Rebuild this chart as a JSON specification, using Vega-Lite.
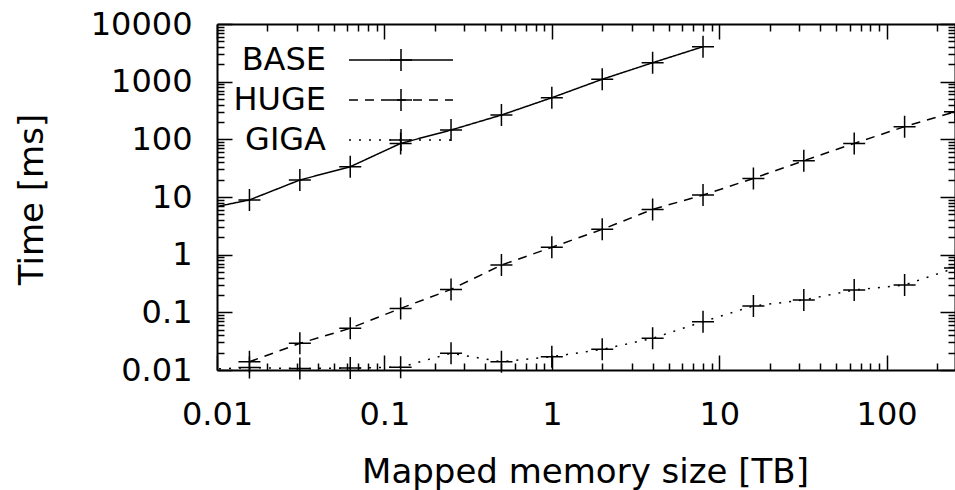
{
  "$schema": "https://vega.github.io/schema/vega-lite/v6.json",
  "width": 738,
  "height": 346,
  "autosize": "none",
  "padding": {"left": 217, "top": 24, "right": 0, "bottom": 120},
  "background": "white",
  "config": {"view": {"stroke": null}, "font": "DejaVu Sans"},
  "data": {"values": [
    {"series": "BASE", "size": 0.0078125, "time": 5.9},
    {"series": "BASE", "size": 0.015625, "time": 8.9},
    {"series": "BASE", "size": 0.03125, "time": 19.7},
    {"series": "BASE", "size": 0.0625, "time": 33.5},
    {"series": "BASE", "size": 0.125, "time": 85},
    {"series": "BASE", "size": 0.25, "time": 145},
    {"series": "BASE", "size": 0.5, "time": 264},
    {"series": "BASE", "size": 1, "time": 527},
    {"series": "BASE", "size": 2, "time": 1100},
    {"series": "BASE", "size": 4, "time": 2130},
    {"series": "BASE", "size": 8, "time": 4040},
    {"series": "HUGE", "size": 0.015625, "time": 0.0139},
    {"series": "HUGE", "size": 0.03125, "time": 0.029},
    {"series": "HUGE", "size": 0.0625, "time": 0.053},
    {"series": "HUGE", "size": 0.125, "time": 0.117},
    {"series": "HUGE", "size": 0.25, "time": 0.25},
    {"series": "HUGE", "size": 0.5, "time": 0.66},
    {"series": "HUGE", "size": 1, "time": 1.34},
    {"series": "HUGE", "size": 2, "time": 2.75},
    {"series": "HUGE", "size": 4, "time": 6.1},
    {"series": "HUGE", "size": 8, "time": 10.8},
    {"series": "HUGE", "size": 16, "time": 21},
    {"series": "HUGE", "size": 32, "time": 42.6},
    {"series": "HUGE", "size": 64, "time": 85},
    {"series": "HUGE", "size": 128, "time": 166},
    {"series": "HUGE", "size": 256, "time": 301},
    {"series": "GIGA", "size": 0.0078125, "time": 0.0102},
    {"series": "GIGA", "size": 0.015625, "time": 0.011},
    {"series": "GIGA", "size": 0.03125, "time": 0.0106},
    {"series": "GIGA", "size": 0.0625, "time": 0.0108},
    {"series": "GIGA", "size": 0.125, "time": 0.0112},
    {"series": "GIGA", "size": 0.25, "time": 0.0195},
    {"series": "GIGA", "size": 0.5, "time": 0.0139},
    {"series": "GIGA", "size": 1, "time": 0.017},
    {"series": "GIGA", "size": 2, "time": 0.0228},
    {"series": "GIGA", "size": 4, "time": 0.0354},
    {"series": "GIGA", "size": 8, "time": 0.069},
    {"series": "GIGA", "size": 16, "time": 0.129},
    {"series": "GIGA", "size": 32, "time": 0.164},
    {"series": "GIGA", "size": 64, "time": 0.244},
    {"series": "GIGA", "size": 128, "time": 0.298},
    {"series": "GIGA", "size": 256, "time": 0.588}
  ]},
  "layer": [
    {
      "mark": {"type": "line", "clip": true, "strokeWidth": 1.5, "color": "black"},
      "encoding": {
        "x": {
          "field": "size", "type": "quantitative",
          "scale": {"type": "log", "domain": [0.01, 256], "nice": false},
          "axis": {
            "orient": "bottom",
            "values": [0.01,0.02,0.03,0.04,0.05,0.06,0.07,0.08,0.09,0.1,0.2,0.3,0.4,0.5,0.6,0.7,0.8,0.9,1,2,3,4,5,6,7,8,9,10,20,30,40,50,60,70,80,90,100,200],
            "labelExpr": "abs(log(datum.value)/LN10 - round(log(datum.value)/LN10)) < 1e-6 ? format(datum.value, '~g') : ''",
            "tickSize": {"condition": {"test": "abs(log(datum.value)/LN10 - round(log(datum.value)/LN10)) < 1e-6", "value": -15}, "value": -7},
            "tickWidth": 1.5, "tickColor": "black",
            "domainWidth": 2, "domainColor": "black",
            "grid": false,
            "labelFont": "DejaVu Sans", "labelFontSize": 32, "labelColor": "black",
            "labelBaseline": "alphabetic", "labelPadding": 69,
            "labelOverlap": false, "labelFlush": false,
            "title": "Mapped memory size [TB]",
            "titleFont": "DejaVu Sans", "titleFontSize": 34, "titleFontWeight": "normal", "titleColor": "black",
            "titleX": 368, "titleY": 112, "titleBaseline": "alphabetic", "titleAlign": "center"
          }
        },
        "y": {
          "field": "time", "type": "quantitative",
          "scale": {"type": "log", "domain": [0.01, 10000], "nice": false},
          "axis": {
            "orient": "left",
            "values": [0.01,0.02,0.03,0.04,0.05,0.06,0.07,0.08,0.09,0.1,0.2,0.3,0.4,0.5,0.6,0.7,0.8,0.9,1,2,3,4,5,6,7,8,9,10,20,30,40,50,60,70,80,90,100,200,300,400,500,600,700,800,900,1000,2000,3000,4000,5000,6000,7000,8000,9000,10000],
            "labelExpr": "abs(log(datum.value)/LN10 - round(log(datum.value)/LN10)) < 1e-6 ? format(datum.value, '~g') : ''",
            "tickSize": {"condition": {"test": "abs(log(datum.value)/LN10 - round(log(datum.value)/LN10)) < 1e-6", "value": -15}, "value": -7},
            "tickWidth": 1.5, "tickColor": "black",
            "domainWidth": 2, "domainColor": "black",
            "grid": false,
            "labelFont": "DejaVu Sans", "labelFontSize": 32, "labelColor": "black",
            "labelAlign": "right", "labelBaseline": "middle", "labelPadding": 40,
            "labelOverlap": false, "labelFlush": false,
            "title": "Time [ms]",
            "titleFont": "DejaVu Sans", "titleFontSize": 34, "titleFontWeight": "normal", "titleColor": "black",
            "titleX": -175, "titleY": 175, "titleAngle": -90, "titleBaseline": "alphabetic", "titleAlign": "center"
          }
        },
        "strokeDash": {
          "field": "series", "type": "nominal",
          "scale": {"domain": ["BASE", "HUGE", "GIGA"], "range": [[1, 0], [9, 7], [2, 8]]},
          "legend": {
            "orient": "none", "legendX": 168, "legendY": 20,
            "title": null, "padding": 0,
            "symbolType": "M-4.73,0H4.73", "symbolSize": 484,
            "symbolStrokeWidth": 1.5, "symbolStrokeColor": "black",
            "labelFont": "DejaVu Sans", "labelFontSize": 32, "labelColor": "black",
            "labelAlign": "right", "labelOffset": -91, "labelLimit": 0,
            "rowPadding": 8
          }
        }
      }
    },
    {
      "transform": [{"filter": "datum.size >= 0.01"}],
      "mark": {"type": "point", "filled": false, "strokeWidth": 1.5, "size": 484, "color": "black", "opacity": 1},
      "encoding": {
        "x": {
          "field": "size", "type": "quantitative",
          "scale": {"type": "log", "domain": [0.01, 256], "nice": false},
          "axis": {
            "orient": "top",
            "values": [0.01,0.02,0.03,0.04,0.05,0.06,0.07,0.08,0.09,0.1,0.2,0.3,0.4,0.5,0.6,0.7,0.8,0.9,1,2,3,4,5,6,7,8,9,10,20,30,40,50,60,70,80,90,100,200],
            "labels": false,
            "tickSize": {"condition": {"test": "abs(log(datum.value)/LN10 - round(log(datum.value)/LN10)) < 1e-6", "value": -15}, "value": -7},
            "tickWidth": 1.5, "tickColor": "black",
            "domainWidth": 2, "domainColor": "black",
            "grid": false, "title": null
          }
        },
        "y": {
          "field": "time", "type": "quantitative",
          "scale": {"type": "log", "domain": [0.01, 10000], "nice": false},
          "axis": {
            "orient": "right",
            "values": [0.01,0.02,0.03,0.04,0.05,0.06,0.07,0.08,0.09,0.1,0.2,0.3,0.4,0.5,0.6,0.7,0.8,0.9,1,2,3,4,5,6,7,8,9,10,20,30,40,50,60,70,80,90,100,200,300,400,500,600,700,800,900,1000,2000,3000,4000,5000,6000,7000,8000,9000,10000],
            "labels": false,
            "tickSize": {"condition": {"test": "abs(log(datum.value)/LN10 - round(log(datum.value)/LN10)) < 1e-6", "value": -15}, "value": -7},
            "tickWidth": 1.5, "tickColor": "black",
            "domainWidth": 2, "domainColor": "black",
            "grid": false, "title": null
          }
        },
        "shape": {
          "field": "series", "type": "nominal",
          "scale": {"domain": ["GIGA", "HUGE", "BASE"], "range": ["M-1,0H1M0,-1V1", "M-1,0H1M0,-1V1", "M-1,0H1M0,-1V1"]},
          "legend": {
            "orient": "none", "legendX": 168, "legendY": 20,
            "title": null, "padding": 0,
            "values": ["BASE", "HUGE", "GIGA"],
            "symbolSize": 484,
            "symbolStrokeWidth": 1.5, "symbolStrokeColor": "black", "symbolFillColor": "transparent",
            "labelFont": "DejaVu Sans", "labelFontSize": 32, "labelOpacity": 0,
            "labelLimit": 0,
            "rowPadding": 8
          }
        }
      }
    }
  ],
  "resolve": {"axis": {"x": "independent", "y": "independent"}}
}
